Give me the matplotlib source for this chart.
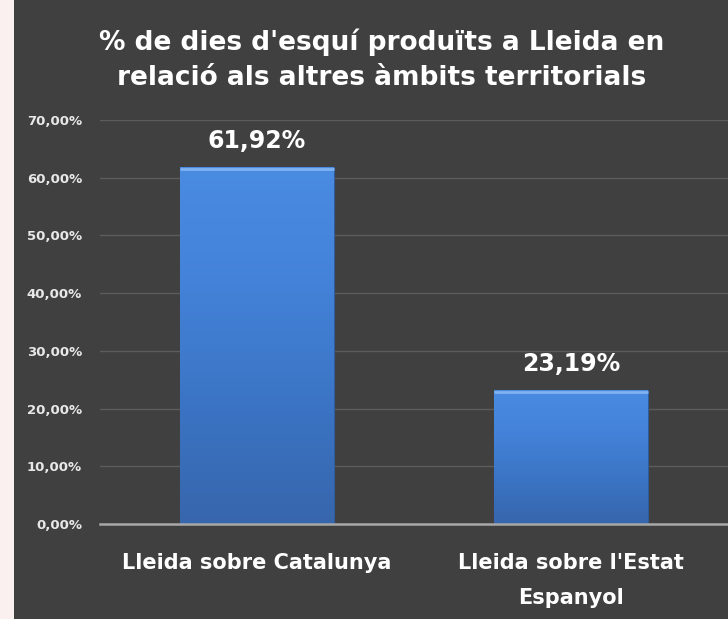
import numpy as np
import matplotlib
matplotlib.use("Agg")
import matplotlib.pyplot as plt
from matplotlib.patches import Rectangle

categories = ["Lleida sobre Catalunya", "Lleida sobre l'Estat\nEspanyol"]
values = [61.92, 23.19]
value_labels = ["61,92%", "23,19%"]
yticks = [0, 10, 20, 30, 40, 50, 60, 70]
ytick_labels = ["0,00%", "10,00%", "20,00%", "30,00%", "40,00%", "50,00%", "60,00%", "70,00%"]
title = "% de dies d'esquí produïts a Lleida en\nrelació als altres àmbits territorials"

bg = "#404040"
plt.rcParams['font.family'] = ['DejaVu Sans']

fig = plt.figure(figsize=(7.28, 6.19), dpi=100, facecolor=bg)
# white page strip on the left edge
fig.patches.append(Rectangle((0, 0), 14 / 728, 1, transform=fig.transFigure,
                             facecolor="#fbf0f0", edgecolor="none", zorder=0))

ax = fig.add_axes([100 / 728, 95 / 619, 628 / 728, 404 / 619])
ax.set_facecolor(bg)

x = np.arange(len(categories))
width = 0.49
bars = ax.bar(x, values, width=width, color="#3d7ad0", edgecolor="#2e5c9c",
              linewidth=0.8, zorder=3)

# vertical gradient on each bar
grad = np.linspace(0, 1, 256).reshape(-1, 1)
cmap = matplotlib.colors.LinearSegmentedColormap.from_list(
    "b", ["#3766ac", "#3b74c4", "#4382d8", "#4a8ce2"])
for b in bars:
    x0, y0 = b.get_x(), b.get_y()
    w, h = b.get_width(), b.get_height()
    im = ax.imshow(grad, cmap=cmap, extent=[x0, x0 + w, y0, y0 + h],
                   origin="lower", aspect="auto", zorder=4)
    im.set_clip_path(b)
    # light top edge
    ax.plot([x0, x0 + w], [y0 + h - 0.35, y0 + h - 0.35], color="#7fb2f0",
            linewidth=2, zorder=5, solid_capstyle="butt")

for xi, v, lab in zip(x, values, value_labels):
    ax.text(xi, v + 2.4, lab, ha="center", va="bottom", color="white",
            fontsize=17, fontweight="bold", zorder=5)

ax.set_xlim(-0.5, 1.5)
ax.set_ylim(0, 70)
ax.set_yticks(yticks)
ax.set_yticklabels(ytick_labels, color="#e8e8e8", fontsize=9.5, fontweight="bold")
ax.set_xticks(x)
ax.set_xticklabels(categories, color="white", fontsize=15, fontweight="bold",
                   va="top", linespacing=1.9)
ax.tick_params(axis="y", length=0, pad=13)
ax.tick_params(axis="x", length=0, pad=21)
ax.grid(axis="y", color="#5c5c5c", linewidth=1, zorder=0)
for s in ["top", "right", "left"]:
    ax.spines[s].set_visible(False)
ax.spines["bottom"].set_color("#a8a8a8")
ax.spines["bottom"].set_linewidth(1.8)
ax.spines["bottom"].set_zorder(6)

fig.text(382 / 728, 1 - 60 / 619, title, ha="center", va="center", color="white",
         fontsize=19, fontweight="bold", linespacing=1.45)

fig.savefig("out.png", dpi=100, facecolor=bg)
